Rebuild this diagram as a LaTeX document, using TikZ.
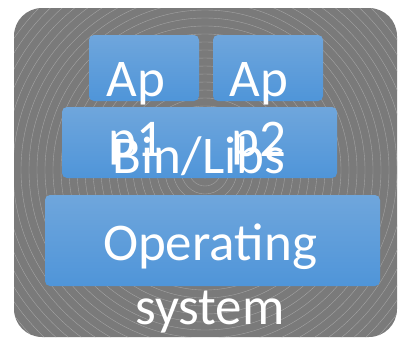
\documentclass[tikz,border=0pt]{standalone}
\usepackage{fontspec}
\setmainfont{Carlito}
\definecolor{bggray}{HTML}{7A7A7A}
\definecolor{ringgray}{HTML}{A4A4A4}
\definecolor{boxtop}{HTML}{6FA6DC}
\definecolor{boxbot}{HTML}{4F95D9}

\begin{document}
\begin{tikzpicture}[x=1pt, y=-1pt,
  layer/.style={rounded corners=5pt, top color=boxtop, bottom color=boxbot, draw=none},
  lbl/.style={text=white, inner sep=0pt, align=center, font=\fontsize{53}{60}\selectfont}]

  \useasboundingbox (0,0) rectangle (399,338);

  % background with rings
  \begin{scope}
    \clip[rounded corners=28pt] (14,8) rectangle (397,337);
    \fill[bggray] (0,0) rectangle (399,338);
    \foreach \r in {8,16,...,320}
      \draw[ringgray, line width=0.4pt] (205,170) circle (\r);
  \end{scope}

  % layers
  \path[layer] (89,35) rectangle (199,101);
  \path[layer] (213,35) rectangle (323,101);
  \path[layer] (62,107) rectangle (337,178);
  \path[layer] (45,195) rectangle (380,286);

  % labels
  \node[lbl, anchor=north] (app1) at (136,62) {Ap\\p1};
  \node[lbl, anchor=north] (app2) at (259,62) {Ap\\p2};
  \node[lbl, anchor=north] (libs) at (199,136) {Bin/Libs};
  \node[lbl, anchor=north, font=\fontsize{53}{64}\selectfont] (os) at (210,224) {Operating\\system};

\end{tikzpicture}
\end{document}
